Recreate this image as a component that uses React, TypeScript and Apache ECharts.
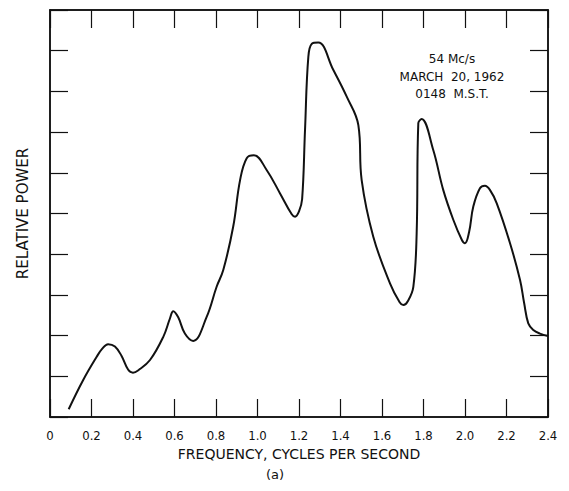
import React, { useEffect, useRef } from "react";
import * as echarts from "echarts";

const freq = [0.09, 0.16, 0.225, 0.252, 0.28, 0.313, 0.345, 0.377, 0.40, 0.426, 0.482, 0.546, 0.578, 0.594, 0.618, 0.65, 0.69, 0.755, 0.803, 0.835, 0.883, 0.916, 0.948, 0.983, 1.044, 1.108, 1.165, 1.181, 1.2, 1.215, 1.229, 1.245, 1.262, 1.293, 1.365, 1.43, 1.486, 1.502, 1.558, 1.639, 1.685, 1.703, 1.725, 1.751, 1.767, 1.775, 1.791, 1.847, 1.895, 1.944, 1.985, 2.0, 2.02, 2.04, 2.072, 2.096, 2.12, 2.153, 2.217, 2.265, 2.285, 2.305, 2.329, 2.361, 2.40];
const power = [0.19, 0.91, 1.48, 1.68, 1.79, 1.73, 1.50, 1.16, 1.09, 1.15, 1.40, 1.97, 2.42, 2.60, 2.45, 2.05, 1.87, 2.46, 3.20, 3.61, 4.68, 5.82, 6.36, 6.43, 6.07, 5.50, 4.98, 4.92, 5.05, 5.35, 7.05, 8.85, 9.17, 9.20, 8.53, 7.87, 7.17, 5.82, 4.43, 3.28, 2.82, 2.75, 2.85, 3.20, 4.51, 7.22, 7.32, 6.56, 5.58, 4.84, 4.35, 4.27, 4.55, 5.17, 5.62, 5.68, 5.58, 5.25, 4.27, 3.37, 2.80, 2.30, 2.14, 2.05, 1.99];
const annotation = ["54 Mc/s", "MARCH  20, 1962", "0148  M.S.T."];
const xTitle = "FREQUENCY, CYCLES PER SECOND";
const yTitle = "RELATIVE POWER";
const subLabel = "(a)";

const ink = "#111";
const font = "'DejaVu Sans', 'Liberation Sans', sans-serif";

export default function App() {
  const ref = useRef<HTMLDivElement>(null);
  useEffect(() => {
    if (!ref.current) return;
    const chart = echarts.init(ref.current, null, { renderer: "svg" });
    const axisLine = { show: true, onZero: false, lineStyle: { color: ink, width: 1.5 } };
    const tick = { show: true, inside: true, length: 18, lineStyle: { color: ink, width: 1.2 } };
    chart.setOption({
      animation: false,
      backgroundColor: "#fff",
      grid: { left: 50, right: 21, top: 10, bottom: 74, show: true, borderColor: ink, borderWidth: 1.5, backgroundColor: "transparent" },
      xAxis: [
        {
          type: "value",
          min: 0,
          max: 2.4,
          interval: 0.2,
          position: "bottom",
          axisLine,
          axisTick: tick,
          splitLine: { show: false },
          axisLabel: {
            color: ink,
            fontSize: 13,
            fontFamily: "'Liberation Sans Narrow', 'DejaVu Sans Condensed', sans-serif",
            margin: 12,
            formatter: (v: number) => (Math.abs(v) < 1e-9 ? "0" : v.toFixed(1)),
          },
          name: xTitle,
          nameLocation: "middle",
          nameGap: 30,
          nameTextStyle: { color: ink, fontSize: 14, fontFamily: font },
        },
        {
          type: "value",
          min: 0,
          max: 2.4,
          interval: 0.2,
          position: "top",
          axisLine,
          axisTick: tick,
          splitLine: { show: false },
          axisLabel: { show: false },
        },
      ],
      yAxis: [
        {
          type: "value",
          min: 0,
          max: 10,
          interval: 1,
          position: "left",
          axisLine,
          axisTick: tick,
          splitLine: { show: false },
          axisLabel: { show: false },
          name: yTitle,
          nameLocation: "middle",
          nameRotate: 90,
          nameGap: 20,
          nameTextStyle: { color: ink, fontSize: 15, fontFamily: font },
        },
        {
          type: "value",
          min: 0,
          max: 10,
          interval: 1,
          position: "right",
          axisLine,
          axisTick: tick,
          splitLine: { show: false },
          axisLabel: { show: false },
        },
      ],
      series: [
        {
          type: "line",
          data: freq.map((f, i) => [f, power[i]]),
          smooth: 0.4,
          showSymbol: false,
          lineStyle: { color: ink, width: 2 },
        },
      ],
      graphic: [
        ...annotation.map((t, i) => ({
          type: "text",
          x: 452,
          y: 59 + i * 17.5,
          style: { text: t, fill: ink, fontSize: 12, fontFamily: font, align: "center", verticalAlign: "middle" },
        })),
        {
          type: "text",
          x: 275,
          y: 474,
          style: { text: subLabel, fill: ink, fontSize: 13, fontFamily: font, align: "center", verticalAlign: "middle" },
        },
      ],
    });
    return () => chart.dispose();
  }, []);
  return <div ref={ref} style={{ position: "absolute", left: 0, top: 0, width: 569, height: 491 }} />;
}
